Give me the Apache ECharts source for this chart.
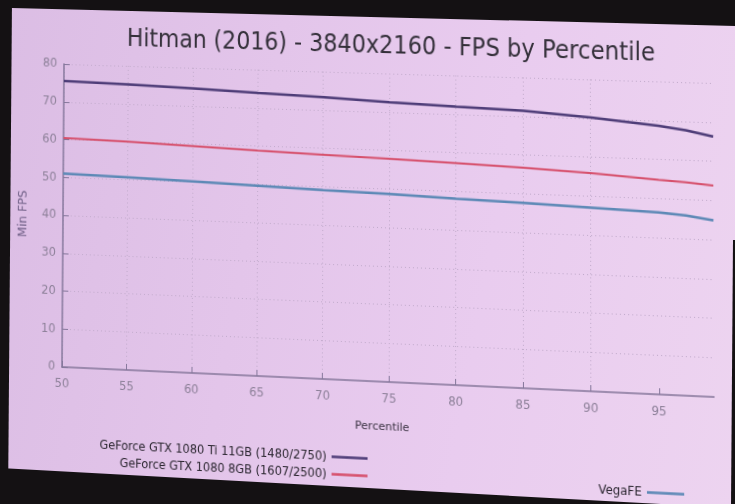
<!DOCTYPE html>
<html>
<head>
<meta charset="utf-8">
<script src="https://cdn.jsdelivr.net/npm/echarts@6.0.0/dist/echarts.min.js"></script>
<style>
  html, body { margin: 0; padding: 0; width: 735px; height: 504px; overflow: hidden; }
  body { position: relative; background: linear-gradient(100deg, #dbbde4 0%, #e3c5ea 35%, #e9ccef 65%, #edd4f0 100%); }
  #chart { position: absolute; left: 0; top: 0; width: 735px; height: 504px; transform-origin: 0 0; }
  .dark { position: absolute; left: 0; top: 0; width: 735px; height: 504px; background: #141113; z-index: 5; }
</style>
</head>
<body>
<div id="chart"></div>
<div class="dark" style="clip-path: polygon(0 0, 735px 0, 735px 26px, 12px 8px, 0 8px);"></div>
<div class="dark" style="clip-path: polygon(0 0, 12px 0, 8px 504px, 0 504px);"></div>
<div class="dark" style="clip-path: polygon(0 468px, 735px 508px, 0 508px);"></div>
<div class="dark" style="clip-path: polygon(733px 240px, 735px 240px, 735px 504px, 731px 504px);"></div>
<script>
// ---- data ----
const percentiles = [50, 55, 60, 65, 70, 75, 80, 85, 90, 95, 97, 99];
const gtx1080ti = [75.5, 75.1, 74.6, 73.9, 73.3, 72.5, 71.9, 71.4, 70.2, 68.6, 67.7, 66.3];
const gtx1080 = [60.4, 60.0, 59.4, 58.8, 58.3, 57.8, 57.3, 56.7, 55.9, 54.8, 54.4, 53.8];
const vegaFE = [51.0, 50.6, 50.1, 49.6, 49.1, 48.7, 48.1, 47.6, 47.0, 46.4, 45.9, 44.9];
const seriesNames = ['GeForce GTX 1080 Ti 11GB (1480/2750)', 'GeForce GTX 1080 8GB (1607/2500)', 'VegaFE'];
const xTicks = [50, 55, 60, 65, 70, 75, 80, 85, 90, 95];
const yTicks = [0, 10, 20, 30, 40, 50, 60, 70, 80];

// ---- photo perspective (screen photographed at an angle) ----
function homography(src, dst) {
  const A = [], B = [];
  for (let i = 0; i < 4; i++) {
    const [u, v] = src[i], [x, y] = dst[i];
    A.push([u, v, 1, 0, 0, 0, -u * x, -v * x]); B.push(x);
    A.push([0, 0, 0, u, v, 1, -u * y, -v * y]); B.push(y);
  }
  const n = 8;
  for (let c = 0; c < n; c++) {
    let p = c;
    for (let r = c + 1; r < n; r++) if (Math.abs(A[r][c]) > Math.abs(A[p][c])) p = r;
    [A[c], A[p]] = [A[p], A[c]]; [B[c], B[p]] = [B[p], B[c]];
    for (let r = 0; r < n; r++) {
      if (r === c) continue;
      const f = A[r][c] / A[c][c];
      for (let k = c; k < n; k++) A[r][k] -= f * A[c][k];
      B[r] -= f * B[c];
    }
  }
  return B.map((b, i) => b / A[i][i]);
}
const flatCorners = [[62, 64], [713, 64], [62, 366], [713, 366]];
const photoCorners = [[64, 64], [713, 83], [62, 367], [714, 397]];
const h = homography(flatCorners, photoCorners);
const dom = document.getElementById('chart');
dom.style.transform = `matrix3d(${h[0]},${h[3]},0,${h[6]},${h[1]},${h[4]},0,${h[7]},0,0,1,0,${h[2]},${h[5]},0,1)`;

// ---- chart ----
const chart = echarts.init(dom, null, { renderer: 'canvas' });
const axisColor = '#85779b';
const labelColor = '#8d8099';
const gridColor = '#c2abcc';
const cond = "'DejaVu Sans Condensed', 'Liberation Sans', sans-serif";
const colors = ['#4e3d78', '#d6506c', '#5d89b6'];

const legendCommon = {
  orient: 'vertical', align: 'right', icon: 'rect', itemWidth: 36, itemHeight: 2.5,
  textStyle: { fontFamily: cond, fontSize: 12.8, color: '#2b2630' }, padding: 0
};

chart.setOption({
  animation: false,
  backgroundColor: 'transparent',
  color: colors,
  title: {
    text: 'Hitman (2016) - 3840x2160 - FPS by Percentile',
    left: 127, top: 22, padding: 0,
    textStyle: { fontFamily: cond, fontSize: 25, fontWeight: 'normal', color: '#34303a', lineHeight: 30 }
  },
  legend: [
    Object.assign({ data: [seriesNames[0]], right: 362, top: 435 }, legendCommon),
    Object.assign({ data: [seriesNames[1]], right: 362, top: 452 }, legendCommon),
    Object.assign({ data: [seriesNames[2]], right: 51, top: 454 }, legendCommon)
  ],
  grid: { left: 62, top: 64, width: 651, height: 302, containLabel: false },
  xAxis: {
    type: 'value', min: 50, max: 99, interval: 5,
    name: 'Percentile', nameLocation: 'middle', nameGap: 39,
    nameTextStyle: { fontFamily: 'DejaVu Sans', fontSize: 11, color: '#3b3343' },
    axisLine: { show: true, lineStyle: { color: axisColor, width: 1.5 } },
    axisTick: { show: true, inside: true, length: 6, customValues: xTicks, lineStyle: { color: axisColor } },
    axisLabel: { margin: 10, customValues: xTicks, fontFamily: cond, fontSize: 13, color: labelColor },
    splitLine: { show: true, showMaxLine: false, lineStyle: { color: gridColor, type: [1, 3], width: 1 } }
  },
  yAxis: {
    type: 'value', min: 0, max: 80, interval: 10,
    name: 'Min FPS', nameLocation: 'middle', nameGap: 35,
    nameTextStyle: { fontFamily: 'DejaVu Sans', fontSize: 12, color: '#6f5f86' },
    axisLine: { show: true, lineStyle: { color: axisColor, width: 1.5 } },
    axisTick: { show: true, inside: true, length: 6, customValues: yTicks, lineStyle: { color: axisColor } },
    axisLabel: { margin: 7, customValues: yTicks, fontFamily: cond, fontSize: 13, color: labelColor },
    splitLine: { show: true, showMinLine: false, lineStyle: { color: gridColor, type: [1, 3], width: 1 } }
  },
  series: [
    { name: seriesNames[0], type: 'line', symbol: 'none', lineStyle: { width: 2.5, color: colors[0] },
      data: percentiles.map((p, i) => [p, gtx1080ti[i]]) },
    { name: seriesNames[1], type: 'line', symbol: 'none', lineStyle: { width: 2, color: colors[1] },
      data: percentiles.map((p, i) => [p, gtx1080[i]]) },
    { name: seriesNames[2], type: 'line', symbol: 'none', lineStyle: { width: 2.5, color: colors[2] },
      data: percentiles.map((p, i) => [p, vegaFE[i]]) }
  ]
});
</script>
</body>
</html>
